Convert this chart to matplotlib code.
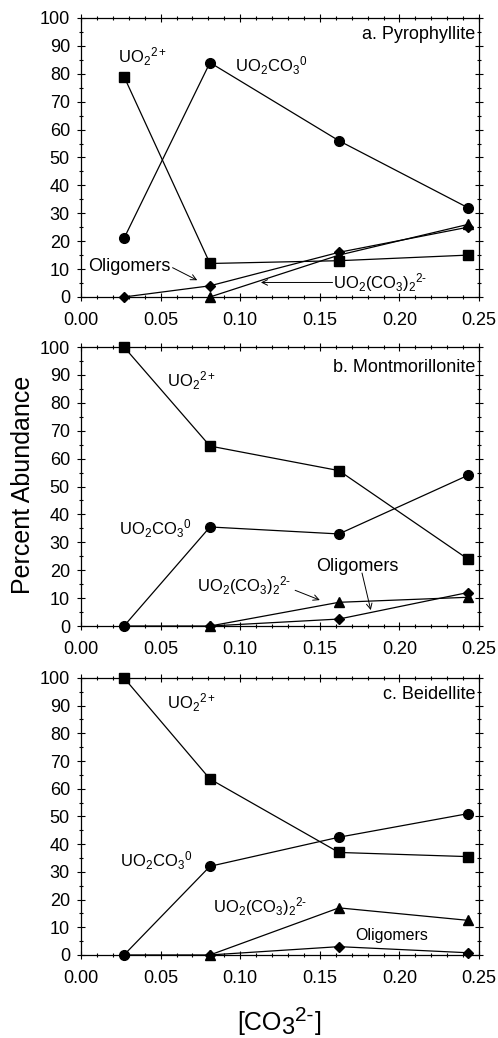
import matplotlib.pyplot as plt
from matplotlib.ticker import MultipleLocator

plt.rcParams['font.family'] = ['Liberation Sans', 'DejaVu Sans']
plt.rcParams['mathtext.fontset'] = 'custom'
plt.rcParams['mathtext.rm'] = 'Liberation Sans'
plt.rcParams['mathtext.it'] = 'Liberation Sans'

# carbonate concentration
co3 = [0.027, 0.081, 0.162, 0.243]

# panel a: pyrophyllite
pyr_uo2 = [79, 12, 13, 15]
pyr_uo2co3 = [21, 84, 56, 32]
pyr_olig = [0, 4, 16, 25]
pyr_uo2co32 = [0, 0, 15, 26]

# panel b: montmorillonite
mont_uo2 = [100, 64.5, 55.7, 24]
mont_uo2co3 = [0, 35.5, 33, 54]
mont_olig = [0, 0, 2.5, 12]
mont_uo2co32 = [0, 0, 8.5, 10.3]

# panel c: beidellite
beid_uo2 = [100, 63.5, 37, 35.5]
beid_uo2co3 = [0, 32, 42.5, 51]
beid_olig = [0, 0, 3, 0.8]
beid_uo2co32 = [0, 0, 17, 12.5]

titles = ['a. Pyrophyllite', 'b. Montmorillonite', 'c. Beidellite']
series = [(pyr_uo2, pyr_uo2co3, pyr_olig, pyr_uo2co32),
          (mont_uo2, mont_uo2co3, mont_olig, mont_uo2co32),
          (beid_uo2, beid_uo2co3, beid_olig, beid_uo2co32)]

UO2 = r'UO$_2$$^{2+}$'
UO2CO3 = r'UO$_2$CO$_3$$^0$'
UO2CO32 = r'UO$_2$(CO$_3$)$_2$$^{2\text{-}}$'

fig = plt.figure(figsize=(4.98, 10.38), dpi=100)
boxes = [[0.1627, 0.7139, 0.7992, 0.2688],
         [0.1627, 0.3969, 0.7992, 0.2688],
         [0.1627, 0.0800, 0.7992, 0.2669]]
axes = []
for i, box in enumerate(boxes):
    ax = fig.add_axes(box)
    sq, ci, di, tr = series[i]
    ax.plot(co3[1:], tr[1:], 'k-^', lw=0.9, ms=6.5, clip_on=False, zorder=3)
    ax.plot(co3, di, 'k-D', lw=0.9, ms=5.5, clip_on=False, zorder=3)
    ax.plot(co3, ci, 'k-o', lw=0.9, ms=7, clip_on=False, zorder=3)
    ax.plot(co3, sq, 'k-s', lw=0.9, ms=6.5, clip_on=False, zorder=3)
    ax.set_xlim(0, 0.25)
    ax.set_ylim(0, 100)
    ax.xaxis.set_major_locator(MultipleLocator(0.05))
    ax.xaxis.set_minor_locator(MultipleLocator(0.01))
    ax.yaxis.set_major_locator(MultipleLocator(10))
    ax.yaxis.set_minor_locator(MultipleLocator(5))
    ax.set_xticklabels(['%.2f' % v for v in ax.get_xticks()])
    ax.tick_params(which='both', direction='inout', top=True, right=True,
                   labelsize=13, width=0.8)
    ax.tick_params(axis='x', pad=8)
    ax.tick_params(axis='y', pad=5)
    ax.tick_params(which='major', length=6)
    ax.tick_params(which='minor', length=3.5)
    for s in ax.spines.values():
        s.set_linewidth(0.9)
    ax.text(0.2475, 94 if i != 1 else 92.5, titles[i], ha='right', va='center',
            fontsize=13)
    axes.append(ax)

fs = 12
arrow = dict(arrowstyle='->', lw=0.7, color='k', shrinkA=0, shrinkB=0)
a, b, c = axes
a.text(0.023, 86, UO2, fontsize=fs, va='center')
a.text(0.0967, 83, UO2CO3, fontsize=fs, va='center')
a.text(0.0045, 10.8, 'Oligomers', fontsize=13, va='center')
a.annotate('', xy=(0.073, 6), xytext=(0.0575, 10.5), arrowprops=arrow)
a.text(0.158, 5.2, UO2CO32, fontsize=fs, va='center')
a.annotate('', xy=(0.113, 5.2), xytext=(0.158, 5.2), arrowprops=arrow)

b.text(0.054, 88, UO2, fontsize=fs, va='center')
b.text(0.024, 35, UO2CO3, fontsize=fs, va='center')
b.text(0.1476, 21.5, 'Oligomers', fontsize=13, va='center')
b.annotate('', xy=(0.182, 5.7), xytext=(0.1765, 19), arrowprops=arrow)
b.text(0.073, 14.5, UO2CO32, fontsize=fs, va='center')
b.annotate('', xy=(0.150, 9.3), xytext=(0.1345, 12.8), arrowprops=arrow)

c.text(0.054, 91, UO2, fontsize=fs, va='center')
c.text(0.0245, 34, UO2CO3, fontsize=fs, va='center')
c.text(0.083, 17.5, UO2CO32, fontsize=fs, va='center')
c.text(0.172, 7, 'Oligomers', fontsize=11.5, va='center')

fig.text(0.047, 0.5324, 'Percent Abundance', rotation=90, ha='center',
         va='center', fontsize=18)

# x label built from pieces: [CO, lowered 3, raised 2-, ]
t0 = fig.text(237 / 498, 1 - 1035 / 1038, '[CO', fontsize=18, va='bottom')
t1 = c.annotate('3', xy=(1, 0), xycoords=(t0, t0), xytext=(0, -3),
                textcoords='offset points', fontsize=17, va='bottom',
                annotation_clip=False)
t2 = c.annotate('2-', xy=(1, 0), xycoords=(t1, t0), xytext=(0.5, 7),
                textcoords='offset points', fontsize=15, va='bottom',
                annotation_clip=False)
c.annotate(']', xy=(1, 0), xycoords=(t2, t0), xytext=(1, 0),
           textcoords='offset points', fontsize=18, va='bottom',
           annotation_clip=False)

fig.savefig('out.png', dpi=100)
